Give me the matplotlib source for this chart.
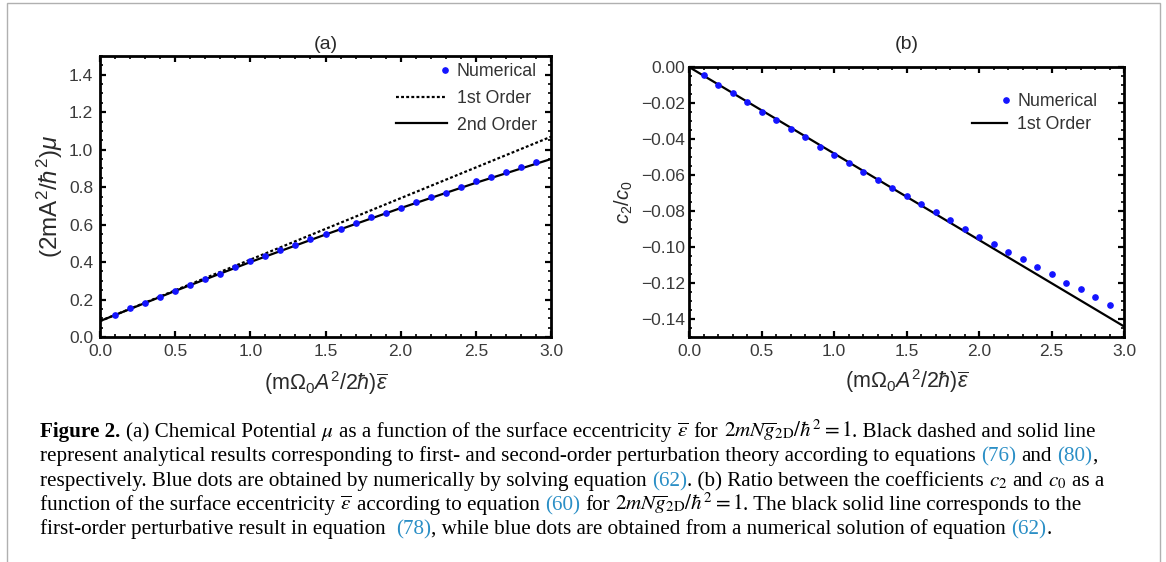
import matplotlib
matplotlib.use("Agg")
import matplotlib.pyplot as plt
from matplotlib.ticker import MultipleLocator, FormatStrFormatter, FuncFormatter
from matplotlib.patches import Rectangle
from matplotlib.lines import Line2D
from matplotlib.legend_handler import HandlerLine2D

# ---------------- data ----------------
eps_num = [0.1, 0.2, 0.3, 0.4, 0.5, 0.6, 0.7, 0.8, 0.9, 1.0,
           1.1, 1.2, 1.3, 1.4, 1.5, 1.6, 1.7, 1.8, 1.9, 2.0,
           2.1, 2.2, 2.3, 2.4, 2.5, 2.6, 2.7, 2.8, 2.9]
mu_numerical = [0.115, 0.154, 0.181, 0.211, 0.248, 0.276, 0.308, 0.337, 0.372, 0.404,
                0.432, 0.463, 0.491, 0.521, 0.551, 0.578, 0.610, 0.638, 0.661, 0.689,
                0.720, 0.750, 0.771, 0.801, 0.831, 0.852, 0.881, 0.906, 0.934]
eps_line = [0.0, 0.5, 1.0, 1.5, 2.0, 2.5, 3.0]
mu_first = [0.085, 0.249, 0.413, 0.577, 0.741, 0.905, 1.069]
mu_second = [0.085, 0.246, 0.400, 0.547, 0.688, 0.823, 0.950]

ratio_numerical = [-0.0044, -0.0102, -0.0146, -0.0194, -0.0248, -0.0294, -0.0343, -0.0389, -0.0443, -0.0489,
                   -0.0535, -0.0581, -0.0628, -0.0672, -0.0717, -0.0763, -0.0806, -0.0850, -0.0898, -0.0943,
                   -0.0981, -0.1028, -0.1067, -0.1113, -0.1152, -0.1198, -0.1235, -0.1276, -0.1322]
eps_ratio_line = [0.0, 3.0]
ratio_first = [0.0, -0.1441]

xticks = [0.0, 0.5, 1.0, 1.5, 2.0, 2.5, 3.0]
yticks_a = [0.0, 0.2, 0.4, 0.6, 0.8, 1.0, 1.2, 1.4]
yticks_b = [0.0, -0.02, -0.04, -0.06, -0.08, -0.10, -0.12, -0.14]

# ---------------- style ----------------
plt.rcParams['font.family'] = ['Liberation Sans', 'DejaVu Sans']
plt.rcParams['mathtext.fontset'] = 'custom'
plt.rcParams['mathtext.rm'] = 'Liberation Sans'
plt.rcParams['mathtext.it'] = 'Liberation Sans:italic'
plt.rcParams['mathtext.bf'] = 'Liberation Sans:bold'
plt.rcParams['mathtext.fallback'] = 'stixsans'

W, H = 1166, 562
fig = plt.figure(figsize=(W / 100, H / 100), dpi=100)

# outer gray frame
fig.patches.append(Rectangle((7 / W, -0.1), (1160 - 7) / W, 1.1 - 3 / H,
                             transform=fig.transFigure, fill=False,
                             edgecolor='#b0b0b0', linewidth=1.0))


def px_axes(x0, x1, ytop, ybot):
    return fig.add_axes([x0 / W, 1 - ybot / H, (x1 - x0) / W, (ybot - ytop) / H])


ax_a = px_axes(100, 551, 56, 337)
ax_b = px_axes(689, 1124, 67, 337)

tick_color = '#3a3a3a'
label_color = '#2a2a2a'
dot_color = '#1414ff'


class RightMarker(HandlerLine2D):
    def create_artists(self, legend, orig_handle, xdescent, ydescent,
                       width, height, fontsize, trans):
        x = -xdescent + width - 0.1 * fontsize
        y = (height - ydescent) / 2
        m = Line2D([x], [y], linestyle='none', marker='o',
                   markersize=orig_handle.get_markersize(),
                   color=orig_handle.get_color())
        m.set_transform(trans)
        return [m]


def style_axes(ax, ymajor, yminor):
    for sp in ax.spines.values():
        sp.set_linewidth(2.0)
        sp.set_color('black')
    ax.xaxis.set_major_locator(MultipleLocator(0.5))
    ax.xaxis.set_minor_locator(MultipleLocator(0.1))
    ax.yaxis.set_major_locator(MultipleLocator(ymajor))
    ax.yaxis.set_minor_locator(MultipleLocator(yminor))
    ax.xaxis.set_major_formatter(FormatStrFormatter('%.1f'))
    ax.tick_params(which='both', direction='in', top=True, right=True,
                   color='black', labelcolor=tick_color, labelsize=12.5)
    ax.tick_params(which='major', length=4.5, width=1.6)
    ax.tick_params(which='minor', length=2.5, width=1.2)
    ax.tick_params(axis='x', pad=5)


# ---------------- panel (a) ----------------
ax_a.plot(eps_line, mu_first, color='black', linewidth=1.6,
          linestyle=(0, (1.3, 1.0)), label='1st Order', zorder=2)
ax_a.plot(eps_line, mu_second, color='black', linewidth=1.6,
          label='2nd Order', zorder=2)
ax_a.plot(eps_num, mu_numerical, linestyle='none', marker='o', markersize=3.8,
          color=dot_color, label='Numerical', zorder=3)
ax_a.set_xlim(0, 3)
ax_a.set_ylim(0, 1.5)
style_axes(ax_a, 0.2, 0.05)
ax_a.yaxis.set_major_formatter(FormatStrFormatter('%.1f'))
ax_a.tick_params(axis='y', pad=5)
ax_a.set_xticks(xticks)
ax_a.set_yticks(yticks_a)
h, l = ax_a.get_legend_handles_labels()
order = [2, 0, 1]
ax_a.legend([h[i] for i in order], [l[i] for i in order], loc='upper right',
            frameon=False, fontsize=12.8, handlelength=2.9, labelspacing=0.55,
            handletextpad=0.55, borderaxespad=0.0, labelcolor='#333333',
            bbox_to_anchor=(0.985, 1.0), handler_map={h[2]: RightMarker()})
ax_a.set_title('(a)', fontsize=14, color=label_color, pad=5)
ax_a.set_xlabel(r'$(\mathrm{m}\Omega_0 A^2/2\hbar)\overline{\epsilon}$',
                fontsize=15.5, color=label_color, labelpad=7)
ax_a.set_ylabel(r'$(2\mathrm{mA}^2/\hbar^2)\mu$', fontsize=17.5,
                color=label_color, labelpad=3)

# ---------------- panel (b) ----------------
ax_b.plot(eps_ratio_line, ratio_first, color='black', linewidth=1.6,
          label='1st Order', zorder=2)
ax_b.plot(eps_num, ratio_numerical, linestyle='none', marker='o', markersize=3.8,
          color=dot_color, label='Numerical', zorder=3)
ax_b.set_xlim(0, 3)
ax_b.set_ylim(-0.15, 0)
style_axes(ax_b, 0.02, 0.005)
ax_b.yaxis.set_major_formatter(
    FuncFormatter(lambda v, p: ('\u2212%.2f' % abs(v)) if v < -1e-9 else '0.00'))
ax_b.tick_params(axis='y', pad=3)
ax_b.set_xticks(xticks)
ax_b.set_yticks(yticks_b)
h, l = ax_b.get_legend_handles_labels()
ax_b.legend([h[1], h[0]], [l[1], l[0]], loc='upper right',
            frameon=False, fontsize=12.8, handlelength=2.0, labelspacing=0.35,
            handletextpad=0.55, borderaxespad=0.0, labelcolor='#333333',
            bbox_to_anchor=(0.955, 0.93), handler_map={h[1]: RightMarker()})
ax_b.set_title('(b)', fontsize=14, color=label_color, pad=13)
ax_b.set_xlabel(r'$(\mathrm{m}\Omega_0 A^2/2\hbar)\overline{\epsilon}$',
                fontsize=15.5, color=label_color, labelpad=6)
ax_b.set_ylabel(r'$c_2/c_0$', fontsize=14.5, color=label_color, labelpad=4)

# ---------------- caption ----------------
cap_size = 15.2
link = '#2b8fc6'
cap_lines = [
    [("Figure 2.", 'k', 'bold'), (" (a) Chemical Potential ", 'k', 'normal'),
     (r"$\mu$", 'k', 'normal'), (" as a function of the surface eccentricity ", 'k', 'normal'),
     (r"$\overline{\epsilon}$", 'k', 'normal'), (" for ", 'k', 'normal'),
     (r"$2mN\overline{g}_{\mathrm{2D}}/\hbar^2=1$", 'k', 'normal'),
     (". Black dashed and solid line", 'k', 'normal')],
    [("represent analytical results corresponding to first- and second-order perturbation theory according to equations ", 'k', 'normal'),
     ("(76)", link, 'normal'), (" and ", 'k', 'normal'), ("(80)", link, 'normal'), (",", 'k', 'normal')],
    [("respectively. Blue dots are obtained by numerically by solving equation ", 'k', 'normal'),
     ("(62)", link, 'normal'), (". (b) Ratio between the coefficients ", 'k', 'normal'),
     (r"$c_2$", 'k', 'normal'), (" and ", 'k', 'normal'), (r"$c_0$", 'k', 'normal'),
     (" as a", 'k', 'normal')],
    [("function of the surface eccentricity ", 'k', 'normal'), (r"$\overline{\epsilon}$", 'k', 'normal'),
     (" according to equation ", 'k', 'normal'), ("(60)", link, 'normal'), (" for ", 'k', 'normal'),
     (r"$2mN\overline{g}_{\mathrm{2D}}/\hbar^2=1$", 'k', 'normal'),
     (". The black solid line corresponds to the", 'k', 'normal')],
    [("first-order perturbative result in equation  ", 'k', 'normal'), ("(78)", link, 'normal'),
     (", while blue dots are obtained from a numerical solution of equation ", 'k', 'normal'),
     ("(62)", link, 'normal'), (".", 'k', 'normal')],
]
cap_y = [437, 461, 486, 510, 534]
cap_x0 = 40

renderer = fig.canvas.get_renderer()


def txt(x, y, s, color, weight):
    return fig.text(x / W, 1 - y / H, s, color=color, fontsize=cap_size,
                    fontweight=weight, family='Liberation Serif',
                    math_fontfamily='stix', va='baseline', ha='left')


probe1 = txt(0, 0, "x x", 'k', 'normal')
probe2 = txt(0, 0, "xx", 'k', 'normal')
space_w = probe1.get_window_extent(renderer).width - probe2.get_window_extent(renderer).width
probe1.remove()
probe2.remove()

for runs, yb in zip(cap_lines, cap_y):
    x = cap_x0
    for s, c, wgt in runs:
        lead = len(s) - len(s.lstrip(' '))
        trail = len(s) - len(s.rstrip(' '))
        core = s.strip(' ')
        x += lead * space_w
        t = txt(x, yb, core, c, wgt)
        x += t.get_window_extent(renderer).width + trail * space_w

fig.savefig('out.png', dpi=100, facecolor='white')
